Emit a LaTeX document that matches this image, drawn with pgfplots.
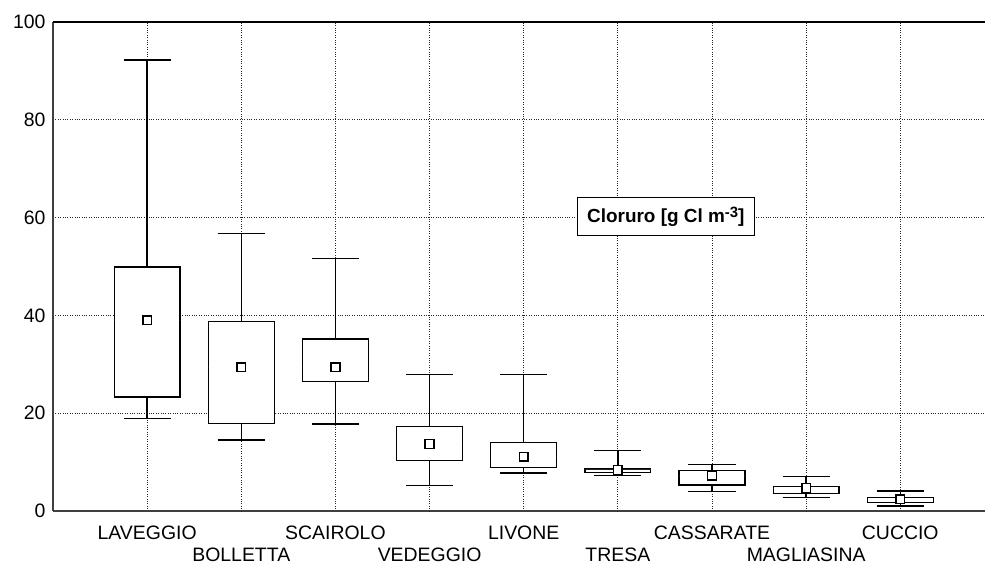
\documentclass[border=0pt]{standalone}
\usepackage{fontspec}
\setmainfont{Liberation Sans}
\usepackage{pgfplots}
\usepgfplotslibrary{statistics}
\pgfplotsset{compat=1.18}

% Box: 25-75 %, whiskers: min-max, square: median
\pgfplotsset{
  station/.style={
    black, solid, line width=1.3pt, fill=white,
    boxplot/draw direction=y,
    boxplot/box extend=0.7,
    boxplot/whisker extend=0.5,
    boxplot/every median/.style={draw=none},
  },
}

\begin{document}
\begin{tikzpicture}
\begin{axis}[
  name=ax,
  scale only axis,
  width=932bp, height=489bp,
  xmin=0, xmax=9.9,
  ymin=0, ymax=100,
  axis lines=left,
  axis line style={-, draw=black!75, line width=1.3pt, dash pattern=on 0.6pt off 0.3pt},
  xtick={1,3,5,7,9},
  xticklabels={LAVEGGIO,SCAIROLO,LIVONE,CASSARATE,CUCCIO},
  extra x ticks={2,4,6,8},
  extra x tick labels={BOLLETTA,VEDEGGIO,TRESA,MAGLIASINA},
  extra x tick style={grid=major, xticklabel style={yshift=-22bp}},
  ytick={0,20,40,60,80,100},
  grid=major,
  grid style={black!85, dotted, line width=0.8pt},
  major tick length=0pt,
  tick label style={font=\fontsize{19.5}{22}\selectfont},
  xticklabel style={yshift=-11bp},
  yticklabel style={xshift=-4bp},
  /pgf/number format/assume math mode=true,
  clip=false,
]
% frame line along the top
\draw[black, line width=1.3pt] (rel axis cs:0,1) -- (rel axis cs:1,1);

% LAVEGGIO
\addplot[station, boxplot prepared={draw position=1,
  lower whisker=18.9, lower quartile=23.3, median=39.0,
  upper quartile=49.9, upper whisker=92.2}] coordinates {};
% BOLLETTA
\addplot[station, boxplot prepared={draw position=2,
  lower whisker=14.5, lower quartile=17.9, median=29.4,
  upper quartile=38.8, upper whisker=56.7}] coordinates {};
% SCAIROLO
\addplot[station, boxplot prepared={draw position=3,
  lower whisker=17.8, lower quartile=26.5, median=29.4,
  upper quartile=35.2, upper whisker=51.7}] coordinates {};
% VEDEGGIO
\addplot[station, boxplot prepared={draw position=4,
  lower whisker=5.2, lower quartile=10.3, median=13.7,
  upper quartile=17.3, upper whisker=27.9}] coordinates {};
% LIVONE
\addplot[station, boxplot prepared={draw position=5,
  lower whisker=7.8, lower quartile=8.9, median=11.1,
  upper quartile=14.0, upper whisker=27.9}] coordinates {};
% TRESA
\addplot[station, boxplot prepared={draw position=6,
  lower whisker=7.2, lower quartile=7.9, median=8.4,
  upper quartile=8.6, upper whisker=12.4}] coordinates {};
% CASSARATE
\addplot[station, boxplot prepared={draw position=7,
  lower whisker=4.0, lower quartile=5.3, median=7.3,
  upper quartile=8.3, upper whisker=9.5}] coordinates {};
% MAGLIASINA
\addplot[station, boxplot prepared={draw position=8,
  lower whisker=2.7, lower quartile=3.6, median=4.7,
  upper quartile=5.0, upper whisker=7.0}] coordinates {};
% CUCCIO
\addplot[station, boxplot prepared={draw position=9,
  lower whisker=1.0, lower quartile=1.8, median=2.4,
  upper quartile=2.7, upper whisker=4.1}] coordinates {};

% medians
\addplot[only marks, mark=square*, mark size=4.4bp,
  mark options={fill=white, draw=black, line width=1.6pt, solid}]
  coordinates {(1,39.0) (2,29.4) (3,29.4) (4,13.7) (5,11.1)
               (6,8.4) (7,7.3) (8,4.7) (9,2.4)};

\node[draw=black, fill=white, line width=1.1pt, inner sep=0pt,
  minimum width=177bp, minimum height=38bp,
  font=\bfseries\fontsize{19}{22}\selectfont]
  at (axis cs:6.51,60.2) {Cloruro [g Cl m\raisebox{0.55ex}{\fontsize{15}{15}\selectfont -3}]};
\end{axis}
\pgfresetboundingbox
\path[use as bounding box] ([xshift=-53bp,yshift=-54bp]ax.south west)
  rectangle ([yshift=22bp]ax.north east);
\end{tikzpicture}
\end{document}
